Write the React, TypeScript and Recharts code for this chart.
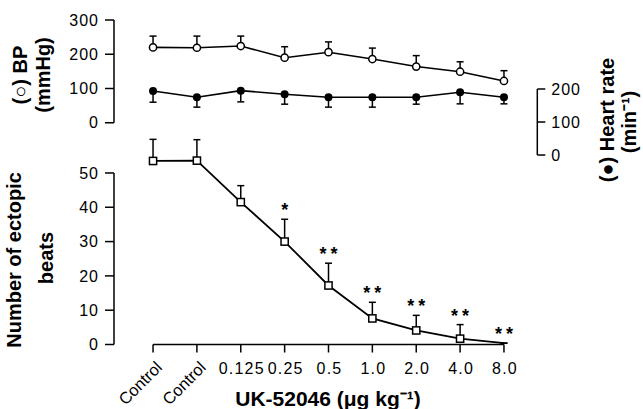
import { LineChart, Line, XAxis, YAxis, ErrorBar, ReferenceLine, LabelList } from "recharts";

const FONT = '"Liberation Sans", Arial, Helvetica, sans-serif';

// categories (doses of UK-52046, µg/kg)
const DOSES = ["Control", "Control", "0.125", "0.25", "0.5", "1.0", "2.0", "4.0", "8.0"];

// top panel: blood pressure (mmHg) and heart rate (min-1), mean and s.e.
const BP = [220, 219, 224, 190, 206, 186, 164, 149, 122];
const BP_SEM = [33, 34, 29, 32, 30, 32, 32, 29, 30];
const HEART_RATE = [194, 175, 195, 184, 175, 175, 175, 190, 175];
const HEART_RATE_SEM = [34, 30, 34, 30, 30, 30, 21, 35, 20];

// bottom panel: number of ectopic beats
const ECTOPIC = [53.5, 53.6, 41.5, 30, 17.2, 7.6, 4.1, 1.7, 0.4];
const ECTOPIC_SEM = [6.3, 6.1, 4.8, 6.5, 6.5, 4.7, 4.4, 4.1, 0];
const SIGNIFICANCE = ["", "", "", "*", "**", "**", "**", "**", "**"];

const BP_TICKS = [0, 100, 200, 300];
const HR_TICKS = [0, 100, 200];
const ECTOPIC_TICKS = [0, 10, 20, 30, 40, 50];

const rows = DOSES.map((dose, i) => ({
  pos: i,
  dose,
  bp: BP[i],
  bpErr: [0, BP_SEM[i]],
  hr: HEART_RATE[i],
  hrErr: [HEART_RATE_SEM[i], 0],
  ect: ECTOPIC[i],
  ectErr: [0, ECTOPIC_SEM[i]],
  ectTop: ECTOPIC[i] + ECTOPIC_SEM[i],
  sig: SIGNIFICANCE[i],
}));

const X_MIN = -0.89;
const X_MAX = 8.76;
const LEFT_W = 114;
const RIGHT_W = 105.7;

const tickStyle = { fill: "#000", fontSize: 16, fontFamily: FONT, letterSpacing: 1 };
const tickLine = { stroke: "#000", strokeWidth: 1.5 };
const axisStroke = { stroke: "#000", strokeWidth: 1.5 };

function OpenCircle(p: any) {
  return <circle key={`o${p.index}`} cx={p.cx} cy={p.cy} r={3.6} fill="#fff" stroke="#000" strokeWidth={1.5} />;
}

function FilledCircle(p: any) {
  return <circle key={`f${p.index}`} cx={p.cx} cy={p.cy} r={4} fill="#000" />;
}

function Square(p: any) {
  if (p.payload.ect < 1) return <g key={`s${p.index}`} />;
  return (
    <rect key={`s${p.index}`} x={p.cx - 3.6} y={p.cy - 3.6} width={7.2} height={7.2} fill="#fff" stroke="#000" strokeWidth={1.5} />
  );
}

function DoseTick(p: any) {
  const label = DOSES[p.payload.value];
  if (label === "Control") {
    return (
      <text transform={`translate(${p.x + 10},${p.y + 14}) rotate(-45)`} textAnchor="end" fontSize={16.5} fontFamily={FONT} fill="#000">
        {label}
      </text>
    );
  }
  return (
    <text x={p.x + 1} y={p.y + 19.5} textAnchor="middle" fontSize={16} fontFamily={FONT} fill="#000" letterSpacing={1.2}>
      {label}
    </text>
  );
}

function Stars(p: any) {
  if (!p.value) return null;
  const vb = p.viewBox ?? p;
  const x = vb.x + (vb.width || 0) / 2;
  return (
    <text x={x + 2} y={vb.y - 3} textAnchor="middle" fontSize={18} fontWeight="bold" fontFamily={FONT} fill="#000" letterSpacing={4}>
      {p.value}
    </text>
  );
}

function Titles() {
  const t = { fontFamily: FONT, fontSize: 20, fontWeight: "bold" as const, fill: "#000", textAnchor: "middle" as const };
  return (
    <svg width={643} height={409} style={{ position: "absolute", left: 0, top: 0, pointerEvents: "none" }}>
      <text {...t} transform="translate(27,75) rotate(-90)">(○) BP</text>
      <text {...t} transform="translate(50,75) rotate(-90)">(mmHg)</text>
      <text {...t} transform="translate(21,260) rotate(-90)">Number of ectopic</text>
      <text {...t} transform="translate(53,258) rotate(-90)">beats</text>
      <text {...t} transform="translate(614,120) rotate(-90)">(●) Heart rate</text>
      <text {...t} transform="translate(636,122) rotate(-90)">(min⁻¹)</text>
      <text {...t} fontSize={21} x={328} y={406}>UK-52046 (μg kg⁻¹)</text>
    </svg>
  );
}

export default function App() {
  return (
    <div style={{ position: "absolute", left: 0, top: 0, width: 643, height: 409, background: "#fff", overflow: "hidden" }}>
      <div style={{ position: "absolute", left: 0, top: 0 }}>
        <LineChart width={643} height={200} data={rows} margin={{ top: 20, right: 0, bottom: 43, left: 0 }}>
          <XAxis type="number" dataKey="pos" domain={[X_MIN, X_MAX]} hide />
          <YAxis
            yAxisId="bp"
            type="number"
            domain={[-100, 300]}
            ticks={BP_TICKS}
            width={LEFT_W}
            axisLine={false}
            tickLine={tickLine}
            tickSize={9}
            tickMargin={6}
            tick={tickStyle}
          />
          <YAxis
            yAxisId="hr"
            orientation="right"
            type="number"
            domain={[-6, 409]}
            ticks={HR_TICKS}
            width={RIGHT_W}
            axisLine={false}
            tickLine={tickLine}
            tickSize={8}
            tickMargin={6}
            tick={tickStyle}
          />
          <ReferenceLine yAxisId="bp" segment={[{ x: X_MIN, y: 0 }, { x: X_MIN, y: 300 }]} ifOverflow="visible" {...axisStroke} />
          <ReferenceLine yAxisId="hr" segment={[{ x: X_MAX, y: 0 }, { x: X_MAX, y: 200 }]} ifOverflow="visible" {...axisStroke} />
          <Line yAxisId="bp" dataKey="bp" stroke="#000" strokeWidth={1.6} dot={OpenCircle} activeDot={false} isAnimationActive={false}>
            <ErrorBar dataKey="bpErr" direction="y" width={3.5} stroke="#000" strokeWidth={1.5} />
          </Line>
          <Line yAxisId="hr" dataKey="hr" stroke="#000" strokeWidth={1.6} dot={FilledCircle} activeDot={false} isAnimationActive={false}>
            <ErrorBar dataKey="hrErr" direction="y" width={3.5} stroke="#000" strokeWidth={1.5} />
          </Line>
        </LineChart>
      </div>
      <div style={{ position: "absolute", left: 0, top: 120 }}>
        <LineChart width={643} height={289} data={rows} margin={{ top: 11.8, right: RIGHT_W, bottom: 4.5, left: 0 }}>
          <XAxis
            type="number"
            dataKey="pos"
            domain={[X_MIN, X_MAX]}
            ticks={DOSES.map((_, i) => i)}
            interval={0}
            axisLine={false}
            tickLine={tickLine}
            tickSize={8}
            height={60}
            tick={(p: any) => <DoseTick {...p} />}
          />
          <YAxis
            type="number"
            domain={[0, 62]}
            ticks={ECTOPIC_TICKS}
            width={LEFT_W}
            axisLine={false}
            tickLine={tickLine}
            tickSize={9}
            tickMargin={6}
            tick={tickStyle}
          />
          <ReferenceLine segment={[{ x: X_MIN, y: 0 }, { x: X_MIN, y: 50 }]} ifOverflow="visible" {...axisStroke} />
          <ReferenceLine segment={[{ x: 0, y: 0 }, { x: 8, y: 0 }]} ifOverflow="visible" {...axisStroke} />
          <Line dataKey="ect" stroke="#000" strokeWidth={1.8} dot={Square} activeDot={false} isAnimationActive={false}>
            <ErrorBar dataKey="ectErr" direction="y" width={3.5} stroke="#000" strokeWidth={1.5} />
          </Line>
          <Line dataKey="ectTop" stroke="none" dot={false} activeDot={false} isAnimationActive={false}>
            <LabelList dataKey="sig" content={Stars} />
          </Line>
        </LineChart>
      </div>
      <Titles />
    </div>
  );
}
